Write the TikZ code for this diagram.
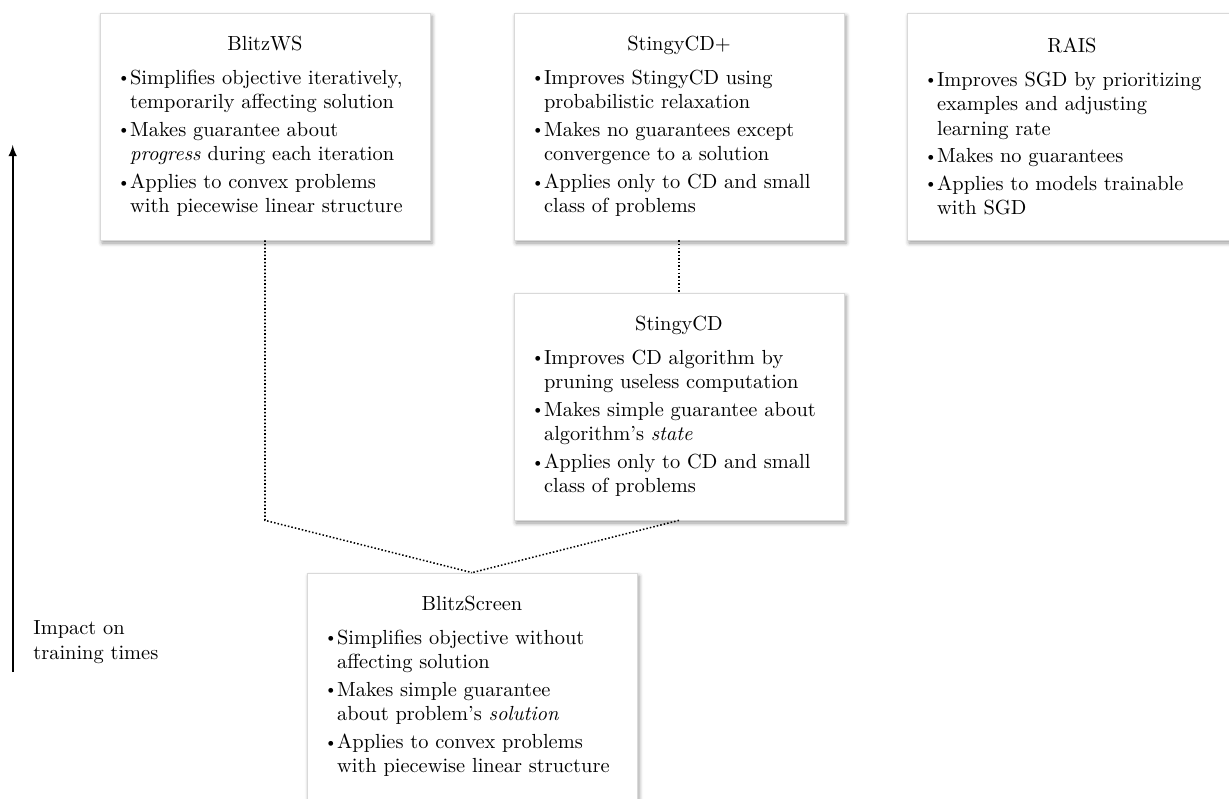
\documentclass[tikz,border=0pt]{standalone}
\usepackage{tikz}
\usetikzlibrary{calc,positioning,arrows,shadows.blur}

\newcommand{\bitem}[1]{\par\vspace{1.5pt}{\let\\\newline\hangindent=6.4pt\hangafter=1\noindent\makebox[6.4pt][l]{\raisebox{.15ex}{\footnotesize\textbullet}}#1\par}}
\newcommand{\card}[2]{\begin{minipage}{145pt}\centering #1\par\vspace{3pt}\raggedright #2\end{minipage}}

\begin{document}
\begin{tikzpicture}[x=0.49pt, y=-0.49pt, card/.style={draw=black!15,fill=white,blur shadow={shadow xshift=1pt,shadow yshift=-1.5pt,shadow blur radius=2pt,shadow opacity=40},minimum width=161.7pt,minimum height=111.2pt,inner sep=0pt},link/.style={densely dotted,line width=0.75pt}]
              \useasboundingbox (0,0) rectangle (1229,799);
              \clip (0,0) rectangle (1229,799);

              \node[card] (ws) at (265,126.5) {\card{BlitzWS}{\bitem{Simplifies objective iteratively,\\temporarily affecting solution}\bitem{Makes guarantee about\\\emph{progress} during each iteration}\bitem{Applies to convex problems\\with piecewise linear structure}}};
              \node[card] (cdp) at (679,126.5) {\card{StingyCD+}{\bitem{Improves StingyCD using\\probabilistic relaxation}\bitem{Makes no guarantees except\\convergence to a solution}\bitem{Applies only to CD and small\\class of problems}}};
              \node[card] (rais) at (1072,126.5) {\card{RAIS}{\bitem{Improves SGD by prioritizing\\examples and adjusting\\learning rate}\bitem{Makes no guarantees}\bitem{Applies to models trainable\\with SGD}}};
              \node[card] (cd) at (679,406.5) {\card{StingyCD}{\bitem{Improves CD algorithm by\\pruning useless computation}\bitem{Makes simple guarantee about\\algorithm's \emph{state}}\bitem{Applies only to CD and small\\class of problems}}};
              \node[card] (scr) at (472,686.5) {\card{BlitzScreen}{\bitem{Simplifies objective without\\affecting solution}\bitem{Makes simple guarantee\\about problem's \emph{solution}}\bitem{Applies to convex problems\\with piecewise linear structure}}};

              \draw[link] (cdp) -- (cd);
              \draw[link] (ws.south) -- (ws.south |- cd.south) -- (scr.north);
              \draw[link] (cd.south) -- (scr.north);

              \coordinate (lo) at (12.7,672);
              \coordinate (hi) at (12.7,145);
              \draw[->,>=latex,line width=0.9pt] (lo) -- (hi);
              \node[align=left,anchor=west,inner sep=0pt] (impact) at (33,642) {Impact on\\training times};
            \end{tikzpicture}
\end{document}
